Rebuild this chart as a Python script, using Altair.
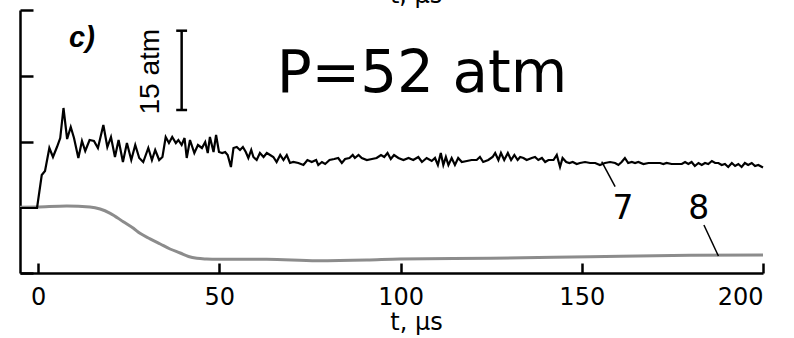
import altair as alt
import pandas as pd

# ---- data (t in microseconds, signal in plot units) ----
t7 = [-5.0, -0.3, 1.0, 1.9, 3.1, 4.1, 5.2, 6.1, 7.0, 8.0,
      9.0, 9.9, 11.1, 12.1, 13.0, 14.2, 15.4, 16.5, 18.0, 19.1,
      20.1, 21.2, 22.2, 23.4, 24.5, 25.7, 26.8, 27.9, 29.0, 30.4,
      31.4, 32.3, 33.4, 34.3, 35.2, 36.1, 37.0, 38.0, 38.7, 39.6,
      40.4, 41.0, 41.9, 43.1, 44.1, 45.2, 46.1, 46.8, 47.4, 48.4,
      49.1, 49.9, 50.8, 51.6, 52.3, 53.2, 53.9, 54.8, 55.7, 56.5,
      57.3, 58.0, 58.8, 59.4, 60.3, 61.2, 62.2, 63.1, 64.0, 64.9,
      65.8, 66.8, 67.7, 68.6, 69.5, 70.4, 71.8, 73.2, 74.3, 75.5,
      76.7, 77.3, 78.3, 79.2, 80.4, 81.7, 82.8, 83.8, 84.7, 85.9,
      86.8, 87.4, 88.4, 89.3, 90.7, 92.1, 93.4, 94.6, 95.5, 96.4,
      97.3, 98.2, 99.4, 100.8, 102.2, 103.5, 104.9, 105.9, 107.2, 108.6,
      109.5, 110.3, 111.1, 111.8, 112.5, 113.2, 114.1, 115.0, 115.9, 116.9,
      118.3, 119.6, 121.0, 121.9, 122.8, 124.2, 125.4, 126.1, 127.0, 127.7,
      128.6, 129.6, 130.5, 131.4, 132.3, 133.0, 133.9, 134.8, 136.2, 137.1,
      138.0, 139.0, 139.9, 140.8, 142.2, 143.1, 144.0, 144.7, 145.7, 146.6,
      147.5, 148.6, 149.5, 150.9, 152.3, 153.7, 155.0, 156.4, 157.8, 159.2,
      160.1, 161.0, 161.9, 162.8, 163.8, 164.7, 165.6, 167.0, 168.4, 170.2,
      171.6, 172.5, 173.4, 174.8, 176.2, 177.6, 178.5, 179.4, 180.3, 181.2,
      182.2, 183.1, 184.0, 184.9, 185.9, 186.8, 187.7, 188.6, 189.5, 190.4,
      191.4, 192.3, 193.2, 194.1, 195.0, 195.9, 196.9, 197.8, 198.7, 200.0]
p7 = [65, 65, 98, 102, 125, 116, 126, 135, 165, 134,
      146, 135, 115, 132, 122, 133, 132, 125, 148, 126,
      136, 116, 133, 111, 130, 113, 128, 115, 111, 125,
      113, 123, 113, 116, 136, 130, 136, 130, 133, 128,
      135, 115, 133, 120, 128, 125, 131, 120, 136, 121,
      138, 121, 120, 121, 118, 106, 125, 126, 123, 126,
      121, 115, 123, 116, 113, 120, 116, 120, 118, 116,
      111, 118, 113, 118, 110, 111, 110, 108, 113, 111,
      113, 108, 111, 109, 113, 114, 115, 110, 114, 115,
      118, 115, 118, 115, 113, 114, 115, 118, 116, 120,
      114, 118, 115, 113, 115, 113, 116, 111, 115, 112,
      115, 108, 120, 108, 116, 108, 115, 108, 115, 111,
      112, 113, 113, 116, 111, 113, 116, 120, 113, 120,
      113, 120, 113, 118, 113, 116, 115, 113, 115, 116,
      113, 115, 111, 113, 113, 118, 106, 115, 111, 110,
      111, 109, 110, 111, 110, 110, 108, 110, 111, 110,
      108, 111, 115, 110, 111, 110, 111, 109, 110, 110,
      110, 109, 110, 109, 109, 109, 111, 109, 111, 107,
      110, 108, 110, 109, 112, 110, 110, 108, 109, 106,
      110, 107, 109, 106, 110, 108, 110, 107, 108, 105.5]

t8 = [-5.0, -0.3, 7.9, 14.3, 17.1, 19.9, 23.5, 26.3, 28.1, 30.9,
      33.7, 36.4, 39.2, 41.5, 43.8, 46.5, 49.3, 63.1, 76.9, 90.7,
      99.9, 124.7, 152.3, 179.9, 200.0]
p8 = [65.7, 66, 67, 66, 64, 59.7, 51.3, 44.7, 39.7, 34.2,
      29, 24, 20, 16.5, 14.7, 14, 13.7, 13.7, 12.3, 13,
      14, 14.7, 16.3, 17.7, 18]

x_ticks = [0, 50, 100, 150, 200]
y_ticks = [0, 65.75, 131.5, 197.25, 263]

curve_labels = ["7", "8"]
curve_label_t = [161.4, 182.3]
curve_label_p = [54, 54]
leader_t = [155.5, 183.7]
leader_t2 = [159.2, 187.7]
leader_p = [111.3, 48]
leader_p2 = [86.3, 17]

bar_t = [39.6, 38.1, 38.1]
bar_t2 = [39.6, 41.1, 41.1]
bar_p = [163, 163, 242.3]
bar_p2 = [242.3, 163, 242.3]

FONT = "DejaVu Sans"
ARIAL = "Liberation Sans"

xs = alt.Scale(domain=[-5, 200], nice=False, zero=False)
ys = alt.Scale(domain=[0, 263], nice=False, zero=False)

df7 = pd.DataFrame({"t": t7, "p": p7})
df8 = pd.DataFrame({"t": t8, "p": p8})


def X(field="t:Q"):
    return alt.X(field, scale=xs, axis=None)


def Y(field="p:Q"):
    return alt.Y(field, scale=ys, axis=None)


gray = alt.Chart(df8).mark_line(color="#8c8c8c", strokeWidth=3, interpolate="monotone").encode(
    x=alt.X("t:Q", scale=xs, axis=alt.Axis(
        orient="bottom", values=x_ticks, ticks=False, grid=False,
        domainColor="black", domainWidth=2.5,
        labelFont=FONT, labelFontSize=24, labelColor="black", labelPadding=12,
        title="t, μs", titleFont=FONT, titleFontSize=24, titleFontWeight="normal",
        titleColor="black", titleX=396, titleY=56, titleAlign="center",
        titleBaseline="alphabetic")),
    y=alt.Y("p:Q", scale=ys, axis=alt.Axis(
        orient="left", values=y_ticks, ticks=False, labels=False, grid=False,
        domainColor="black", domainWidth=2.5, title=None)),
)

black = alt.Chart(df7).mark_line(color="black", strokeWidth=2.2).encode(
    x=alt.X("t:Q", scale=xs, axis=alt.Axis(
        orient="top", offset=-263, values=x_ticks, labels=False, domain=False,
        ticks=True, tickSize=10, tickWidth=2.5, tickColor="black", grid=False, title=None)),
    y=alt.Y("p:Q", scale=ys, axis=alt.Axis(
        orient="right", offset=-743, values=y_ticks, labels=False, domain=False,
        ticks=True, tickSize=13, tickWidth=2.5, tickColor="black", grid=False, title=None)),
)

lab_df = pd.DataFrame({"t": curve_label_t, "p": curve_label_p, "text": curve_labels})
labels = alt.Chart(lab_df).mark_text(font=FONT, fontSize=33, align="center",
                                     baseline="alphabetic", color="black").encode(
    x=X(), y=Y(), text="text:N")

lead_df = pd.DataFrame({"t": leader_t, "t2": leader_t2, "p": leader_p, "p2": leader_p2})
leaders = alt.Chart(lead_df).mark_rule(color="black", strokeWidth=1.5).encode(
    x=X(), x2="t2:Q", y=Y(), y2="p2:Q")

bar_df = pd.DataFrame({"t": bar_t, "t2": bar_t2, "p": bar_p, "p2": bar_p2})
scalebar = alt.Chart(bar_df).mark_rule(color="black", strokeWidth=2.5).encode(
    x=X(), x2="t2:Q", y=Y(), y2="p2:Q")

bar_text = alt.Chart(pd.DataFrame({"t": [31.1], "p": [201.3], "text": ["15 atm"]})).mark_text(
    font=ARIAL, fontSize=28, angle=270, align="center", baseline="middle", color="black").encode(
    x=X(), y=Y(), text="text:N")

panel = alt.Chart(pd.DataFrame({"t": [12.1], "p": [235], "text": ["c)"]})).mark_text(
    font=ARIAL, fontSize=29, fontWeight="bold", fontStyle="italic", align="center",
    baseline="middle", color="black").encode(x=X(), y=Y(), text="text:N")

ptext = alt.Chart(pd.DataFrame({"t": [105.9], "p": [181], "text": ["P=52 atm"]})).mark_text(
    font=FONT, fontSize=58, align="center", baseline="alphabetic", color="black").encode(
    x=X(), y=Y(), text="text:N")

toptitle = alt.Chart(pd.DataFrame({"t": [104.3], "p": [270], "text": ["t, μs"]})).mark_text(
    font=FONT, fontSize=24, align="center", baseline="alphabetic", color="black").encode(
    x=X(), y=Y(), text="text:N")

chart = alt.layer(gray, black, leaders, labels, scalebar, bar_text, panel, ptext, toptitle).resolve_axis(
    x="independent", y="independent"
).properties(
    width=743, height=263,
    padding={"left": 20, "top": 10, "right": 31, "bottom": 65},
    autosize=alt.AutoSizeParams(type="none"),
    background="white",
).configure_view(stroke=None)

chart.save("out.html", embed_options={"renderer": "svg", "actions": False})
